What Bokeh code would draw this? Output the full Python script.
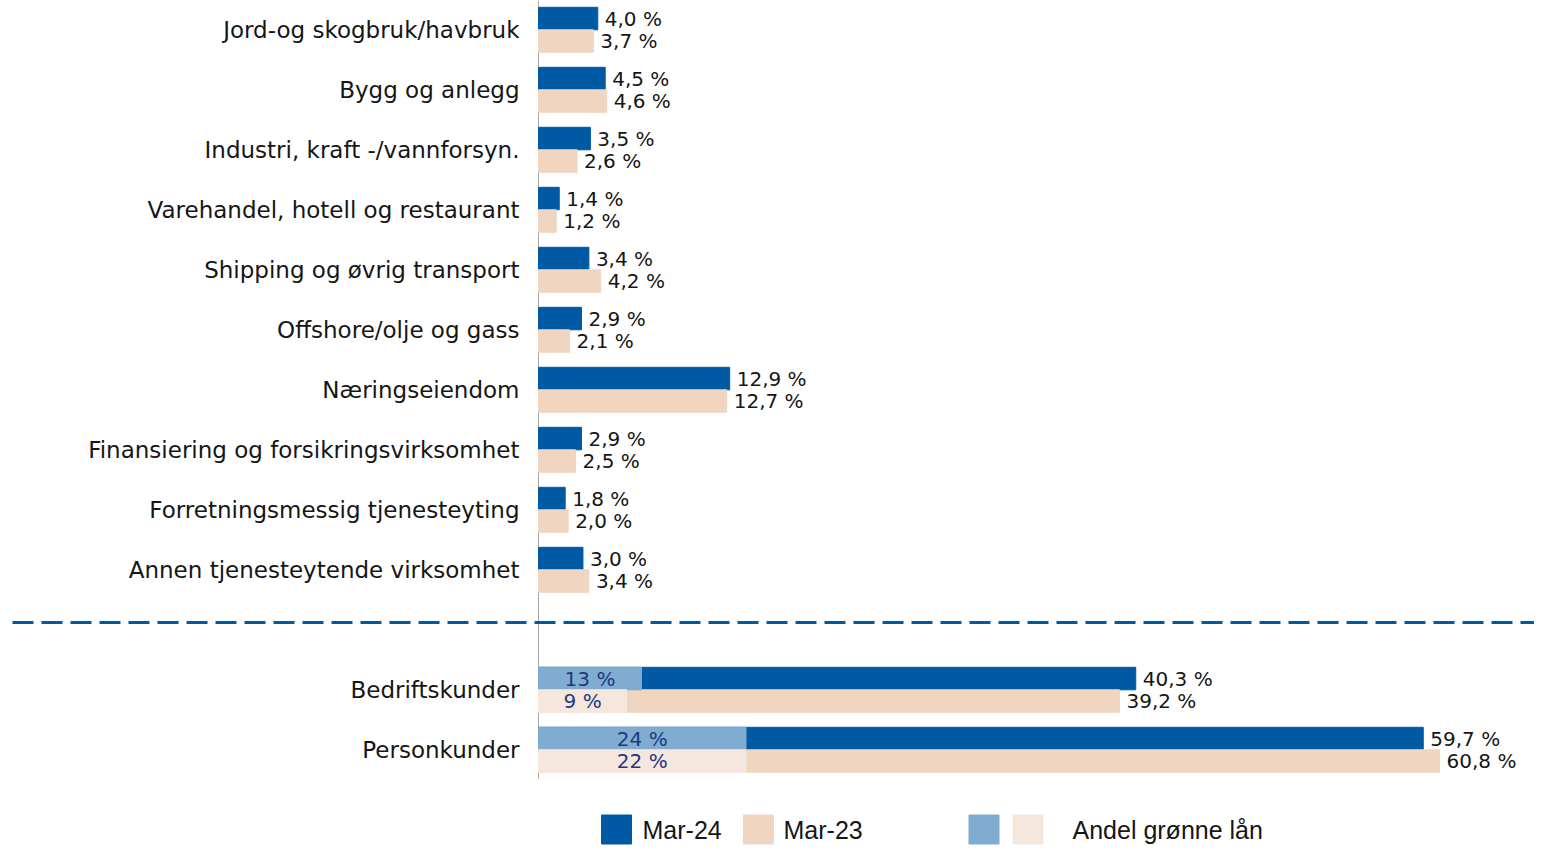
from bokeh.plotting import figure
from bokeh.models import Range1d
from bokeh.core.properties import value
from bokeh.embed import file_html
from bokeh.resources import INLINE

# ---- data ----
categories = [
    "Jord-og skogbruk/havbruk",
    "Bygg og anlegg",
    "Industri, kraft -/vannforsyn.",
    "Varehandel, hotell og restaurant",
    "Shipping og øvrig transport",
    "Offshore/olje og gass",
    "Næringseiendom",
    "Finansiering og forsikringsvirksomhet",
    "Forretningsmessig tjenesteyting",
    "Annen tjenesteytende virksomhet",
]
mar24 = [4.0, 4.5, 3.5, 1.4, 3.4, 2.9, 12.9, 2.9, 1.8, 3.0]
mar23 = [3.7, 4.6, 2.6, 1.2, 4.2, 2.1, 12.7, 2.5, 2.0, 3.4]

segments = ["Bedriftskunder", "Personkunder"]
seg_mar24 = [40.3, 59.7]
seg_mar23 = [39.2, 60.8]
green_share_24 = [13, 24]      # label, % green loans
green_share_23 = [9, 22]
green_len_24 = [6.95, 14.0]    # drawn length of green part (axis units)
green_len_23 = [5.95, 14.0]

legend_labels = ["Mar-24", "Mar-23", "Andel grønne lån"]

# ---- styling ----
DARK = "#005AA3"
PEACH = "#F0D5C1"
LIGHTBLUE = "#80ACD1"
LIGHTPEACH = "#F6E7DE"
NAVY = "#1C3A82"
TXT = "#161616"
FONT = value("DejaVu Sans")
LFONT = value("Liberation Sans")
FS_CAT = "23px"
FS_VAL = "20px"

PX_X = 14.82   # px per percent
PX_Y = 60.0    # px per row
W, H = 1534, 845
AXIS_PX = 538  # axis x within figure
TOP = -29.3 / PX_Y

x0 = -AXIS_PX / PX_X
x1 = (W - AXIS_PX) / PX_X
y_bottom = TOP + H / PX_Y

def fx(px):  # figure px -> data x
    return (px - AXIS_PX) / PX_X

def fy(py):  # figure px -> data y
    return TOP + py / PX_Y

p = figure(width=W, height=H, output_backend="svg", toolbar_location=None,
           x_range=Range1d(x0, x1), y_range=Range1d(y_bottom, TOP),
           x_axis_type=None, y_axis_type=None, min_border=0)
p.grid.visible = False
p.outline_line_color = None
p.background_fill_color = "white"
p.border_fill_color = "white"

BH = 22.5 / PX_Y
fmt = lambda v: f"{v:.1f}".replace(".", ",") + " %"

ycat = list(range(len(categories)))
yseg = [len(categories) + 1 + i for i in range(len(segments))]

# vertical axis line
p.segment(x0=[0], y0=[TOP], x1=[0], y1=[fy(778)], line_color="#A6A6A6", line_width=1)

# industry bars
p.hbar(y=[y - BH / 2 for y in ycat], left=0, right=mar24, height=BH, color=DARK)
p.hbar(y=[y + BH / 2 for y in ycat], left=0, right=mar23, height=BH, color=PEACH)
p.text(x=mar24, y=[y - BH / 2 for y in ycat], text=[fmt(v) for v in mar24], x_offset=7,
       text_baseline="middle", text_font=FONT, text_font_size=FS_VAL, text_color=TXT)
p.text(x=mar23, y=[y + BH / 2 for y in ycat], text=[fmt(v) for v in mar23], x_offset=7,
       text_baseline="middle", text_font=FONT, text_font_size=FS_VAL, text_color=TXT)

# segment bars
p.hbar(y=[y - BH / 2 for y in yseg], left=0, right=seg_mar24, height=BH, color=DARK)
p.hbar(y=[y + BH / 2 for y in yseg], left=0, right=seg_mar23, height=BH, color=PEACH)
p.hbar(y=[y - BH / 2 for y in yseg], left=0, right=green_len_24, height=BH, color=LIGHTBLUE)
p.hbar(y=[y + BH / 2 for y in yseg], left=0, right=green_len_23, height=BH, color=LIGHTPEACH)
p.text(x=seg_mar24, y=[y - BH / 2 for y in yseg], text=[fmt(v) for v in seg_mar24], x_offset=7,
       text_baseline="middle", text_font=FONT, text_font_size=FS_VAL, text_color=TXT)
p.text(x=seg_mar23, y=[y + BH / 2 for y in yseg], text=[fmt(v) for v in seg_mar23], x_offset=7,
       text_baseline="middle", text_font=FONT, text_font_size=FS_VAL, text_color=TXT)
p.text(x=[v / 2 for v in green_len_24], y=[y - BH / 2 for y in yseg],
       text=[f"{v} %" for v in green_share_24], text_align="center", text_baseline="middle",
       text_font=FONT, text_font_size=FS_VAL, text_color=NAVY)
p.text(x=[v / 2 for v in green_len_23], y=[y + BH / 2 for y in yseg],
       text=[f"{v} %" for v in green_share_23], text_align="center", text_baseline="middle",
       text_font=FONT, text_font_size=FS_VAL, text_color=NAVY)

# category labels
p.text(x=0, y=ycat + yseg, text=categories + segments, x_offset=-19, text_align="right",
       text_baseline="middle", text_font=FONT, text_font_size=FS_CAT, text_color=TXT)

# dashed separator
ysep = fy(622)
p.segment(x0=[fx(12)], y0=[ysep], x1=[x1], y1=[ysep], line_color=DARK, line_width=3,
          line_dash="21 8")

# legend (manual)
ly = fy(829)
lh = 29 / PX_Y
lw = 30 / PX_X
p.rect(x=[fx(616), fx(758)], y=ly, width=lw, height=lh, color=[DARK, PEACH])
p.rect(x=[fx(983.5), fx(1027.5)], y=ly, width=lw, height=lh, color=[LIGHTBLUE, LIGHTPEACH])
p.text(x=[fx(642), fx(783), fx(1072)], y=ly, text=legend_labels, text_baseline="middle",
       text_font=LFONT, text_font_size="25px", text_color=TXT)

open("out.html", "w").write(file_html(p, INLINE))
